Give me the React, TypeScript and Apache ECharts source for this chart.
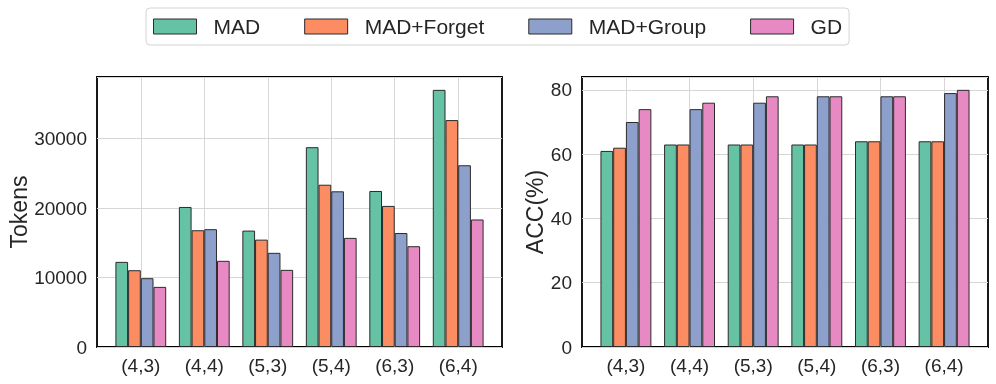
import React, { useEffect, useRef } from "react";
import * as echarts from "echarts";

const categories = ["(4,3)", "(4,4)", "(5,3)", "(5,4)", "(6,3)", "(6,4)"];
const methods = ["MAD", "MAD+Forget", "MAD+Group", "GD"];
const colors = ["#66c2a5", "#fc8d62", "#8da0cb", "#e78ac3"];

const tokensMAD = [12250, 20150, 16750, 28750, 22450, 37000];
const tokensForget = [11050, 16800, 15450, 23350, 20300, 32650];
const tokensGroup = [9900, 16950, 13550, 22400, 16400, 26150];
const tokensGD = [8650, 12400, 11100, 15700, 14500, 18350];

const accMAD = [61, 63, 63, 63, 64, 64];
const accForget = [62, 63, 63, 63, 64, 64];
const accGroup = [70, 74, 76, 78, 78, 79];
const accGD = [74, 76, 78, 78, 78, 80];

const tokenTicks = [0, 10000, 20000, 30000];
const accTicks = [0, 20, 40, 60, 80];

const FONT = "'Liberation Sans', Arial, Helvetica, sans-serif";
const TEXT = "#262626";

export default function App() {
  const ref = useRef<HTMLDivElement>(null);
  useEffect(() => {
    if (!ref.current) return;
    const chart = echarts.init(ref.current, undefined, { renderer: "svg" });
    const catIdx = categories.map((_, i) => i);
    const tokenSeries = [tokensMAD, tokensForget, tokensGroup, tokensGD];
    const accSeries = [accMAD, accForget, accGroup, accGD];

    const xAxisBase = (gridIndex: number) => ({
      type: "value",
      gridIndex,
      min: -0.69,
      max: 5.69,
      axisLine: { show: false },
      axisTick: { show: false, customValues: catIdx },
      splitLine: { show: true, lineStyle: { color: "#d6d6d6", width: 1 } },
      axisLabel: {
        customValues: catIdx,
        formatter: (v: number) => categories[Math.round(v)] ?? "",
        fontSize: 19,
        color: TEXT,
        fontFamily: FONT,
        margin: 9,
      },
    });

    const yAxisBase = (gridIndex: number, max: number, interval: number, ticks: number[], name: string, nameGap: number) => ({
      type: "value",
      gridIndex,
      min: 0,
      max,
      interval,
      name,
      nameLocation: "middle",
      nameGap,
      nameTextStyle: { fontSize: 23, color: TEXT, fontFamily: FONT },
      axisLine: { show: false },
      axisTick: { show: false },
      splitLine: { show: true, lineStyle: { color: "#d6d6d6", width: 1 } },
      axisLabel: {
        showMaxLabel: false,
        fontSize: 19,
        color: TEXT,
        fontFamily: FONT,
        margin: 10,
        formatter: (v: number) => (ticks.includes(v) ? String(v) : ""),
      },
    });

    const mkSeries = (data: number[][], idx: number) =>
      data.map((vals, s) => ({
        type: "bar",
        name: methods[s],
        xAxisIndex: idx,
        yAxisIndex: idx,
        data: vals.map((v, i) => [catIdx[i], v]),
        barWidth: "20%",
        barGap: "0%",
        itemStyle: { color: colors[s], borderColor: "#2b2b2b", borderWidth: 1 },
      }));

    chart.setOption({
      animation: false,
      textStyle: { fontFamily: FONT },
      legend: {
        data: methods,
        left: 146,
        top: 8,
        padding: [8, 7, 8, 7],
        itemGap: 44,
        itemWidth: 43,
        itemHeight: 15,
        icon: "rect",
        itemStyle: { borderColor: "#2b2b2b", borderWidth: 1 },
        textStyle: { fontSize: 21, color: TEXT, fontFamily: FONT, padding: [0, 0, 0, 12], lineHeight: 21 },
        backgroundColor: "#ffffff",
        borderColor: "#d4d4d4",
        borderWidth: 1,
        borderRadius: 4,
      },
      grid: [
        { left: 97, top: 77, width: 405, height: 270, show: true, borderColor: "#000", borderWidth: 1.8, backgroundColor: "transparent", containLabel: false },
        { left: 582, top: 77, width: 406, height: 270, show: true, borderColor: "#000", borderWidth: 1.8, backgroundColor: "transparent", containLabel: false },
      ],
      xAxis: [xAxisBase(0), xAxisBase(1)],
      yAxis: [
        yAxisBase(0, 38850, 10000, tokenTicks, "Tokens", 66),
        yAxisBase(1, 84, 20, accTicks, "ACC(%)", 36),
      ],
      series: [...mkSeries(tokenSeries, 0), ...mkSeries(accSeries, 1)],
    });
    return () => chart.dispose();
  }, []);
  return <div ref={ref} style={{ position: "fixed", left: 0, top: 0, width: 996, height: 384 }} />;
}
